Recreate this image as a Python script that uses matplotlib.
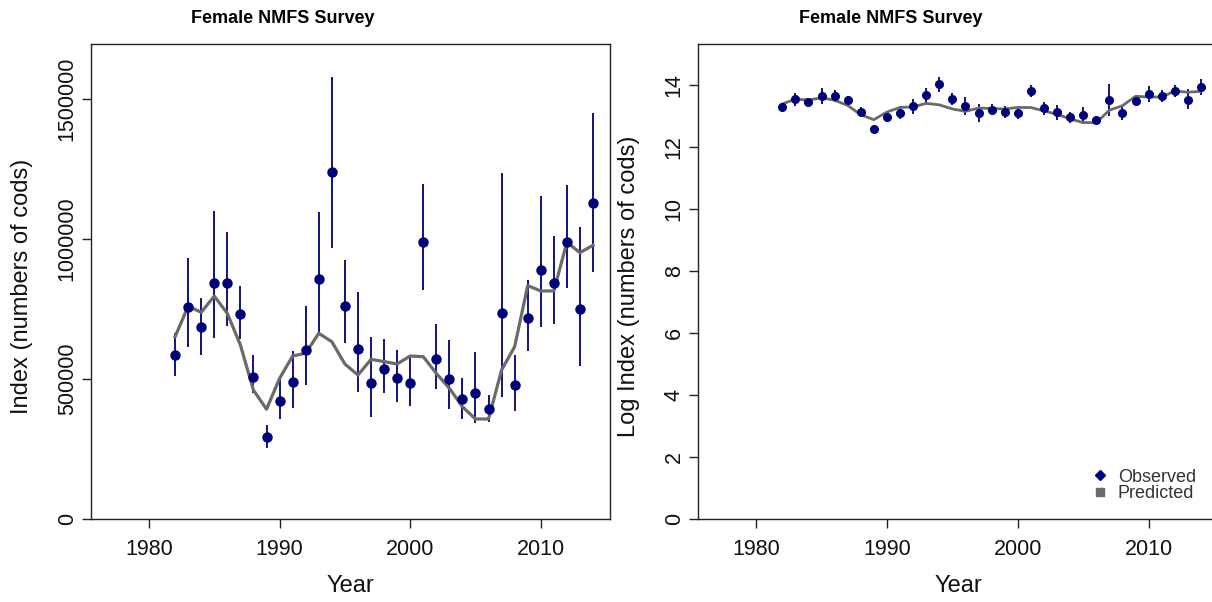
import numpy as np
import matplotlib.pyplot as plt

plt.rcParams['font.family'] = ['Liberation Sans', 'DejaVu Sans']

# survey years and female index (observed, 95% bounds, model fit)
years = np.arange(1982, 2015)
obs = np.array([584600, 757000, 684500, 841700, 841700, 732000, 507000, 293000,
                422500, 489000, 603500, 857000, 1238000, 760700, 608000, 484500,
                537000, 503600, 484500, 990400, 570300, 499000, 427500, 451000,
                392800, 736800, 479600, 717800, 889300, 841700, 990400, 751100,
                1127500])
hi = np.array([665300, 933000, 790000, 1100000, 1024000, 833000, 587000, 334000,
               508000, 600000, 762000, 1095000, 1577000, 924000, 810000, 649000,
               642000, 603600, 579600, 1195000, 695000, 639000, 504600, 595000,
               442800, 1234600, 585700, 853600, 1153600, 1010700, 1191800, 1044000,
               1451000])
lo = np.array([510700, 613000, 587000, 645000, 690000, 642000, 449000, 255000,
               358000, 395000, 478000, 663000, 969000, 627000, 454000, 365000,
               451000, 416700, 403600, 818000, 463000, 391700, 357000, 341700,
               347500, 434600, 386800, 601000, 686800, 696400, 826000, 546400,
               881000])
pred = np.array([651000, 760000, 738000, 796000, 734000, 621000, 460000, 392000,
                 502000, 582000, 592000, 663000, 633000, 553500, 514000, 570000,
                 562000, 553600, 582000, 579600, 520000, 466700, 401000, 357000,
                 357000, 532000, 615400, 833200, 814300, 814300, 988200, 951000,
                 977500])

navy = '#000078'
grey = '#6a6a6a'
edge = '#222222'

fig = plt.figure(figsize=(12.12, 6.02), dpi=100)
ax1 = fig.add_axes([91 / 1212, 83 / 602, 519 / 1212, 475 / 602])
ax2 = fig.add_axes([698 / 1212, 83 / 602, 520 / 1212, 475 / 602])


def style(ax, ylabel):
    ax.set_xlim(1975.56, 2015.3)
    ax.set_xticks([1980, 1990, 2000, 2010])
    for s in ax.spines.values():
        s.set_color(edge)
        s.set_linewidth(1.0)
    ax.tick_params(length=6.5, width=1.0, color=edge, labelsize=15.5,
                   labelcolor='#111111')
    ax.tick_params(axis='x', pad=8)
    ax.tick_params(axis='y', labelrotation=90, pad=3)
    for lab in ax.get_yticklabels():
        lab.set_va('center')
    ax.set_title('Female NMFS Survey', fontsize=13, fontweight='bold',
                 x=0.37, pad=15)
    ax.set_xlabel('Year', fontsize=17, color='#111111')
    ax.set_ylabel(ylabel, fontsize=17, color='#111111')
    ax.xaxis.set_label_coords(0.5, -0.118)
    ax.yaxis.set_label_coords(-0.112, 0.49)


# === index in numbers ===
ax1.vlines(years, lo, hi, color=navy, lw=1.3)
ax1.plot(years, pred, color=grey, lw=2.3)
ax1.plot(years, obs, 'o', color=navy, ms=6.5)
ax1.set_ylim(0, 1696000)
ax1.set_yticks([0, 500000, 1000000, 1500000])
ax1.set_yticklabels(['0', '500000', '1000000', '1500000'])
style(ax1, 'Index (numbers of cods)')

# === log index ===
ax2.vlines(years, np.log(lo), np.log(hi), color=navy, lw=1.3)
ax2.plot(years, np.log(pred), color=grey, lw=2.0)
ax2.plot(years, np.log(obs), 'o', color=navy, ms=5.5)
ax2.set_ylim(0, 15.32)
ax2.set_yticks(np.arange(0, 15, 2))
style(ax2, 'Log Index (numbers of cods)')

h_obs, = ax2.plot([], [], 'D', color=navy, ms=5.5, ls='none')
h_pred, = ax2.plot([], [], 's', color=grey, ms=5.5, ls='none')
ax2.legend([h_obs, h_pred], ['Observed', 'Predicted'], loc='lower right',
           bbox_to_anchor=(0.975, 0.017), frameon=False, fontsize=13,
           labelspacing=-0.05, handlelength=0.6, handletextpad=0.7,
           borderpad=0, labelcolor='#333333')

fig.savefig('out.png', dpi=100)
